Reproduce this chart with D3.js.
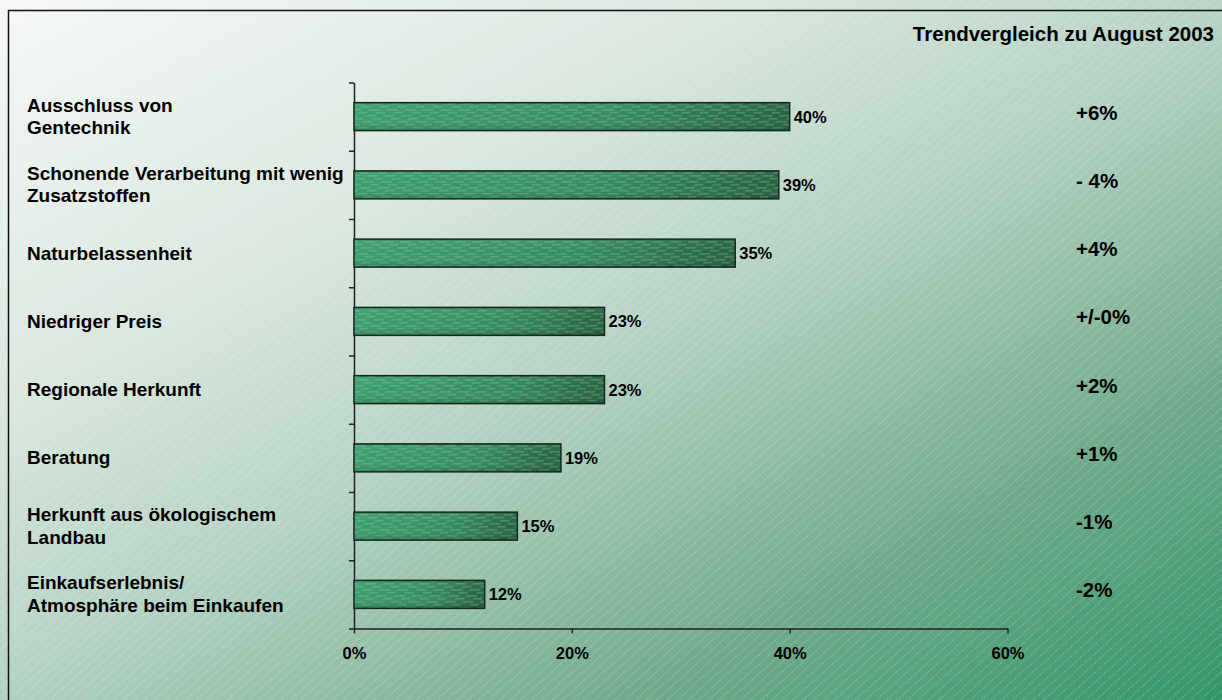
<!DOCTYPE html>
<html>
<head>
<meta charset="utf-8">
<script src="https://cdn.jsdelivr.net/npm/d3@7"></script>
<style>
  html, body { margin: 0; padding: 0; background: #fff; }
  svg { display: block; }
</style>
</head>
<body>
<div id="container"></div>
<script>
/* Daten */
const categories = [
  ["Ausschluss von", "Gentechnik"],
  ["Schonende Verarbeitung mit wenig", "Zusatzstoffen"],
  ["Naturbelassenheit"],
  ["Niedriger Preis"],
  ["Regionale Herkunft"],
  ["Beratung"],
  ["Herkunft aus ökologischem", "Landbau"],
  ["Einkaufserlebnis/", "Atmosphäre beim Einkaufen"]
];
const values = [40, 39, 35, 23, 23, 19, 15, 12];
const trends = ["+6%", "- 4%", "+4%", "+/-0%", "+2%", "+1%", "-1%", "-2%"];
const xTicks = [0, 20, 40, 60];
const trendTitle = "Trendvergleich zu August 2003";

/* Maße */
const width = 1222, height = 700,
  plotLeft = 354, plotRight = 1007.5,
  plotTop = 82.5, plotBottom = 628.5,
  fontPolice = "'Liberation Sans', Arial, Helvetica, sans-serif";

const svg = d3.select("#container").append("svg")
  .attr("width", width)
  .attr("height", height);

const defs = svg.append("defs");

/* Hintergrundverlauf */
const bg = defs.append("linearGradient")
  .attr("id", "bgGrad")
  .attr("gradientUnits", "userSpaceOnUse")
  .attr("x1", 0).attr("y1", 0).attr("x2", 569).attr("y2", 1053);
[[0, "#f6f8f6"], [0.3, "#d9e7df"], [0.5, "#b6d3c4"], [0.76, "#72ab8c"], [1, "#339668"]]
  .forEach(s => bg.append("stop").attr("offset", s[0]).attr("stop-color", s[1]));

/* Diagonale Streifen */
const stripes = defs.append("pattern")
  .attr("id", "stripes")
  .attr("patternUnits", "userSpaceOnUse")
  .attr("width", 7).attr("height", 7)
  .attr("patternTransform", "rotate(48)");
stripes.append("line")
  .attr("x1", 0.5).attr("y1", 0).attr("x2", 0.5).attr("y2", 7)
  .attr("stroke", "#ffffff").attr("stroke-opacity", 0.22)
  .attr("stroke-width", 1).attr("stroke-dasharray", "2,1");

/* Balkenfüllung */
const barGrad = defs.append("linearGradient")
  .attr("id", "barGrad")
  .attr("x1", 0).attr("y1", 0).attr("x2", 1).attr("y2", 0);
[[0, "#3a9d6c"], [0.6, "#338a5e"], [1, "#24603f"]]
  .forEach(s => barGrad.append("stop").attr("offset", s[0]).attr("stop-color", s[1]));

const barShade = defs.append("linearGradient")
  .attr("id", "barShade")
  .attr("x1", 0).attr("y1", 0).attr("x2", 0).attr("y2", 1);
[[0, "#000", 0.25], [0.12, "#fff", 0.05], [0.5, "#fff", 0], [1, "#000", 0.18]]
  .forEach(s => barShade.append("stop").attr("offset", s[0])
    .attr("stop-color", s[1]).attr("stop-opacity", s[2]));

const weave = defs.append("pattern")
  .attr("id", "weave")
  .attr("patternUnits", "userSpaceOnUse")
  .attr("width", 18).attr("height", 6)
  .attr("patternTransform", "skewX(-30)");
weave.append("rect").attr("x", 0).attr("y", 1).attr("width", 11).attr("height", 1.6)
  .attr("fill", "#9fe0bd").attr("opacity", 0.3);
weave.append("rect").attr("x", 9).attr("y", 4).attr("width", 11).attr("height", 1.6)
  .attr("fill", "#9fe0bd").attr("opacity", 0.3);

/* Hintergrund und Rahmen */
svg.append("rect").attr("width", width).attr("height", height).attr("fill", "url(#bgGrad)");
svg.append("rect").attr("width", width).attr("height", height).attr("fill", "url(#stripes)");
svg.append("rect")
  .attr("x", 8.5).attr("y", 10.5).attr("width", width + 20).attr("height", height + 20)
  .attr("fill", "none").attr("stroke", "#111").attr("stroke-width", 1.5);

/* Skalen */
const x = d3.scaleLinear().domain([0, 60]).range([plotLeft, plotRight]);
const y = d3.scaleBand()
  .domain(d3.range(categories.length))
  .range([plotTop, plotBottom])
  .paddingInner(0.59).paddingOuter(0.295);
const yEdge = d3.scaleLinear().domain([0, categories.length]).range([plotTop, plotBottom]);
const mid = i => y(i) + y.bandwidth() / 2;

/* Achsen */
const yAxis = svg.append("g")
  .attr("transform", "translate(" + plotLeft + ",0)")
  .call(d3.axisLeft(yEdge).tickValues(d3.range(categories.length + 1))
    .tickSize(5).tickSizeOuter(0).tickFormat(""));
const xAxis = svg.append("g")
  .attr("transform", "translate(0," + plotBottom + ")")
  .call(d3.axisBottom(x).tickValues(xTicks).tickSize(5).tickSizeOuter(0)
    .tickFormat(d => d + "%"));
[yAxis, xAxis].forEach(a => {
  a.selectAll("path, line").attr("stroke", "#222").attr("stroke-width", 1.5);
});
xAxis.selectAll("text")
  .attr("y", 30.5).attr("dy", 0)
  .attr("fill", "#000")
  .style("font-family", fontPolice)
  .style("font-size", "16.5px")
  .style("font-weight", "bold");

/* Balken */
const bars = svg.append("g");
["url(#barGrad)", "url(#weave)", "url(#barShade)"].forEach(fill => {
  bars.append("g").selectAll("rect")
    .data(values)
    .enter().append("rect")
      .attr("x", x(0))
      .attr("y", (d, i) => y(i))
      .attr("width", d => x(d) - x(0))
      .attr("height", y.bandwidth())
      .attr("fill", fill);
});
bars.append("g").selectAll("rect")
  .data(values)
  .enter().append("rect")
    .attr("x", x(0))
    .attr("y", (d, i) => y(i))
    .attr("width", d => x(d) - x(0))
    .attr("height", y.bandwidth())
    .attr("fill", "none")
    .attr("stroke", "#142a1e")
    .attr("stroke-width", 1.5);

/* Werte */
svg.append("g").selectAll("text")
  .data(values)
  .enter().append("text")
    .attr("x", d => x(d) + 4)
    .attr("y", (d, i) => mid(i) + 6)
    .attr("fill", "#000")
    .style("font-family", fontPolice)
    .style("font-size", "16.5px")
    .style("font-weight", "bold")
    .text(d => d + "%");

/* Kategorien */
const labels = svg.append("g").selectAll("text")
  .data(categories)
  .enter().append("text")
    .attr("x", 27)
    .attr("y", (d, i) => d.length > 1 ? mid(i) - 5 : mid(i) + 6.5)
    .attr("fill", "#000")
    .style("font-family", fontPolice)
    .style("font-size", "19px")
    .style("font-weight", "bold");
labels.selectAll("tspan")
  .data(d => d)
  .enter().append("tspan")
    .attr("x", 27)
    .attr("dy", (d, j) => j === 0 ? 0 : 22.5)
    .text(d => d);

/* Trendvergleich */
svg.append("text")
  .attr("x", 1214).attr("y", 41)
  .attr("text-anchor", "end")
  .attr("fill", "#000")
  .style("font-family", fontPolice)
  .style("font-size", "20.5px")
  .style("font-weight", "bold")
  .text(trendTitle);

svg.append("g").selectAll("text")
  .data(trends)
  .enter().append("text")
    .attr("x", 1076)
    .attr("y", (d, i) => mid(i) + 3)
    .attr("fill", "#000")
    .style("font-family", fontPolice)
    .style("font-size", "20.5px")
    .style("font-weight", "bold")
    .text(d => d);
</script>
</body>
</html>
